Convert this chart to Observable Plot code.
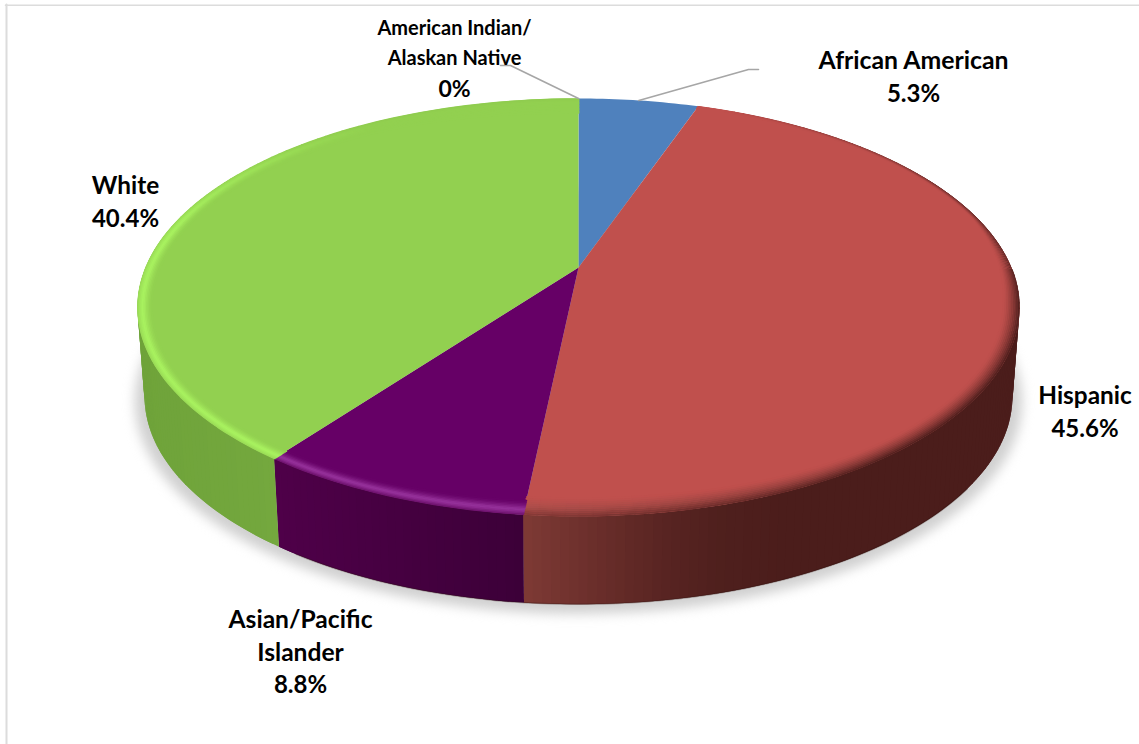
<!DOCTYPE html>
<html>
<head>
<meta charset="utf-8">
<style>
  html, body { margin: 0; padding: 0; background: #ffffff; }
  svg { display: block; }
</style>
<script src="https://cdn.jsdelivr.net/npm/d3@7"></script>
<script src="https://cdn.jsdelivr.net/npm/@observablehq/plot@0.6"></script>
</head>
<body>
<div id="chart"></div>
<script>
// Enrollment shares by group, clockwise from twelve o'clock.
const categories = ["African American", "Hispanic", "Asian/Pacific\nIslander", "White", "American Indian/\nAlaskan Native"];
const shares = [5.3, 45.6, 8.8, 40.4, 0];
const shareLabels = ["5.3%", "45.6%", "8.8%", "40.4%", "0%"];

// Slice colours: top face, rim highlight, side wall at its left and right ends.
const faceColors = ["#4f81bd", "#c0504d", "#660066", "#92d050", "#4f81bd"];
const glowColors = ["#4f81bd", "#cd605b", "#97339c", "#a9f360", "#4f81bd"];
const wallLeftColors = ["#4e1f1d", "#7e3a35", "#4f0049", "#7fb347", "#4f81bd"];
const wallRightColors = ["#4e1f1d", "#4b1d1b", "#3c0038", "#74a83e", "#4f81bd"];

// Label placement: centre x, first line centre y, line gap, font sizes (screen pixels).
const labelX = [913, 1084.5, 300, 125, 454];
const labelY = [61, 396, 620, 186, 28];
const labelGap = [32.5, 33, 32.5, 32.5, 30.5];
const labelSize = [24.8, 24.4, 24.6, 24.4, 20];
const valueSize = [24, 24, 24, 24, 23];

const W = 1139, H = 744;
const CX = 578, CY = 308, UNIT = 441;
const px = (X, Y) => [(X - CX) / UNIT, (CY - Y) / UNIT];

// Tilted-disc projection: disc angle (radians, clockwise from the top) to model space.
const K = 0.191, RX = 432.9 / UNIT, RY = 201.3 / UNIT, APEX = 41 / UNIT;
function rim(theta) {
  const t = theta + (2.9 * Math.PI / 180) * Math.pow((1 - Math.cos(theta)) / 2, 5);
  const u = Math.sin(t), v = Math.cos(t), d = 1 + K * v;
  return [RX * u / d, APEX + RY * v / d];
}
const lowerRim = ([x, y]) => [x * 0.984, y * 0.995 - 89 / UNIT];

const arcs = d3.pie().sort(null).startAngle(0).endAngle(2 * Math.PI)(shares);
const DEG = Math.PI / 180;
function angleSteps(a0, a1, step) {
  const n = Math.max(1, Math.ceil((a1 - a0) / step));
  return d3.range(n + 1).map(i => a0 + (a1 - a0) * i / n);
}
const ramp = (stops, v) => d3.scaleLinear().domain(stops.map(s => s[0])).range(stops.map(s => s[1])).clamp(true)(v);

// Soft ground shadow under the drum.
const shadow = angleSteps(0, 2 * Math.PI, 2 * DEG).map(a => {
  const [x, y] = lowerRim(rim(a));
  return {x: x * 1.022, y: y * 1.022 - 3 / UNIT};
});

// Side wall: thin overlapping quads, shaded left to right.
const wall = [];
arcs.forEach((arc, s) => {
  if (arc.endAngle <= arc.startAngle) return;
  const a0 = Math.max(arc.startAngle, 60 * DEG), a1 = Math.min(arc.endAngle, 300 * DEG);
  if (a1 <= a0) return;
  const steps = angleSteps(a0, a1, 1 * DEG);
  const xLeft = rim(arc.endAngle)[0], xRight = rim(arc.startAngle)[0];
  const redWall = d3.interpolateRgbBasis(["#7e3a35", "#652b28", "#4e1f1d", "#4b1d1b"]);
  const colorAt = x => s === 1
    ? redWall(Math.min(1, Math.max(0, (x - xLeft) / 0.62)))
    : d3.interpolateRgb(wallLeftColors[s], wallRightColors[s])((x - xLeft) / (xRight - xLeft));
  steps.slice(0, -1).forEach((a, i) => {
    const p = rim(a), q = rim(steps[Math.min(i + 2, steps.length - 1)]);
    const c = colorAt((p[0] + rim(steps[i + 1])[0]) / 2);
    const z = `${s}-${i}`;
    [p, q, lowerRim(q), lowerRim(p)].forEach(([x, y]) => wall.push({x, y, z, c}));
  });
});

// Darker seam along the bottom edge of the front wall.
const seam = angleSteps(125 * DEG, 212 * DEG, 2 * DEG).map(a => {
  const [x, y] = lowerRim(rim(a));
  return {x, y};
});

// Top face: apex to rim.
const face = [];
arcs.forEach((arc, s) => {
  if (arc.endAngle <= arc.startAngle) return;
  const c = faceColors[s];
  face.push({x: 0, y: APEX, z: s, c});
  angleSteps(arc.startAngle, arc.endAngle, 1 * DEG).forEach(a => {
    const [x, y] = rim(a);
    face.push({x, y, z: s, c});
  });
});

// Bevel round the rim: highlight on the lit side, fall-off into the wall on the dark side.
// Ring points slide along the ray to the apex, so slice edges stay straight.
const RINGS = 10;
const bevel = [];
const glowAmount = (s, deg) => s === 3 ? ramp([[280, 1], [325, 0]], deg)
  : s === 2 ? 1
  : s === 1 ? ramp([[135, 0], [183, 0.9]], deg)
  : 0;
const darkAmount = (s, deg) => s === 1 ? ramp([[22, 0], [35, 0.3], [60, 0.7], [100, 1], [140, 1], [183, 0.55]], deg)
  : s === 2 ? 0.45
  : s === 3 ? 0.2
  : 0;
const bandWidth = (s, deg) => (s === 1 ? ramp([[30, 3], [75, 5], [100, 17], [130, 19]], deg) : 15) / UNIT;
arcs.forEach((arc, s) => {
  if (arc.endAngle <= arc.startAngle || s === 0) return;
  d3.range(RINGS).forEach(r => {
    const t = (r + 0.5) / RINGS;
    const glowT = t < 0.4 ? 0.55 + 0.45 * t / 0.4 : Math.pow(1 - (t - 0.4) / 0.6, 1.6);
    const darkT = Math.pow(Math.max(0, 1 - t / (s === 1 ? 1 : 0.3)), 1.4);
    angleSteps(arc.startAngle, arc.endAngle, 1.5 * DEG).forEach(a => {
      const deg = a / DEG;
      const [x, y] = rim(a);
      const lit = d3.interpolateRgb(faceColors[s], glowColors[s])(glowAmount(s, deg) * glowT);
      const c = d3.interpolateRgb(lit, wallLeftColors[s === 1 ? 0 : s])(darkAmount(s, deg) * darkT);
      const dy = y - APEX, len = Math.hypot(x, dy);
      const keep = 1 - bandWidth(s, deg) * t / len;
      bevel.push({x: x * keep, y: APEX + dy * keep, z: `${s}-${r}`, c, w: s === 1 && deg < 90 ? 1 : 2.1});
    });
  });
});

// Leader lines from the rim to the two labels above the pie.
const leaderKnees = [[[748, 69], [758, 69]], null, null, null, [[510, 65], [500, 65]]];
const leaders = [];
arcs.forEach((arc, s) => {
  if (!leaderKnees[s]) return;
  const start = rim(s === 4 ? 0 : (arc.startAngle + arc.endAngle) / 2);
  [start, ...leaderKnees[s].map(p => px(...p))].forEach(([x, y]) => leaders.push({x, y, z: s}));
});

// One row per drawn text line.
const labelRows = [];
categories.forEach((name, s) => {
  const lines = name.split("\n");
  lines.forEach((text, i) => {
    const [x, y] = px(labelX[s], labelY[s] + i * labelGap[s]);
    labelRows.push({x, y, text, size: labelSize[s]});
  });
  const [x, y] = px(labelX[s], labelY[s] + lines.length * labelGap[s]);
  labelRows.push({x, y, text: shareLabels[s], size: valueSize[s]});
});

// Thin frame along the top and left of the chart area.
const frameTop = [px(5, 4.7), px(W, 4.7)].map(([x, y]) => ({x, y}));
const frameLeft = [px(6, 4), px(6, H)].map(([x, y]) => ({x, y}));

const chart = Plot.plot({
  width: W, height: H,
  margin: 0,
  x: {domain: [-CX / UNIT, (W - CX) / UNIT], range: [0, W], axis: null},
  y: {domain: [(CY - H) / UNIT, CY / UNIT], range: [H, 0], axis: null},
  color: {type: "identity"},
  style: {background: "#ffffff", fontFamily: "Lato, 'Open Sans', sans-serif"},
  marks: [
    Plot.line(frameTop, {x: "x", y: "y", stroke: "#dcdcdc", strokeWidth: 1.6}),
    Plot.line(frameLeft, {x: "x", y: "y", stroke: "#dcdcdc", strokeWidth: 2}),
    Plot.line(shadow, {x: "x", y: "y", fill: "#d0d0d0", stroke: "none", imageFilter: "blur(6px)"}),
    Plot.line(wall, {x: "x", y: "y", z: "z", fill: "c", stroke: "none"}),
    Plot.line(seam, {x: "x", y: "y", stroke: "#2a0f0e", strokeOpacity: 0.3, strokeWidth: 1.5}),
    Plot.line(face, {x: "x", y: "y", z: "z", fill: "c", stroke: "none"}),
    Plot.line(bevel, {x: "x", y: "y", z: "z", stroke: "c", strokeWidth: "w"}),
    Plot.line(leaders, {x: "x", y: "y", z: "z", stroke: "#a6a6a6", strokeWidth: 1.6}),
    Plot.text(labelRows, {
      x: "x", y: "y", text: "text",
      fontSize: d => d.size, fontWeight: 700, fill: "#000000",
      textAnchor: "middle", lineAnchor: "middle"
    })
  ]
});
document.getElementById("chart").append(chart);
</script>
</body>
</html>
